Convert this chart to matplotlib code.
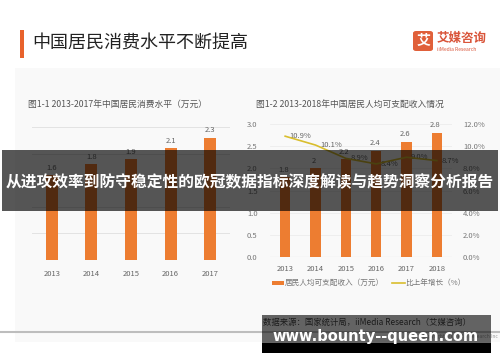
import numpy as np
import matplotlib as mat
mat.use("Agg")
import matplotlib.pyplot as plt
from matplotlib.patches import Rectangle, FancyBboxPatch
from matplotlib.lines import Line2D

plt.rcParams['font.family'] = ['Noto Sans CJK SC', 'DejaVu Sans']

# 数据
years1 = ['2013', '2014', '2015', '2016', '2017']
consume = [1.6, 1.8, 1.9, 2.1, 2.3]          # 万元
years2 = ['2013', '2014', '2015', '2016', '2017', '2018']
income = [1.8, 2.0, 2.2, 2.4, 2.6, 2.8]      # 万元
growth = [10.9, 10.1, 8.9, 8.4, 9.0, 8.7]    # %
income_labels = ['1.8', '2', '2.2', '2.4', '2.6', '2.8']

title = '中国居民消费水平不断提高'
sub1 = '图1-1 2013-2017年中国居民消费水平（万元）'
sub2 = '图1-2 2013-2018年中国居民人均可支配收入情况'
banner = '从进攻效率到防守稳定性的欧冠数据指标深度解读与趋势洞察分析报告'
source = '数据来源：国家统计局，iiMedia Research（艾媒咨询）'
site = 'www.bounty--queen.com'

ORANGE = '#ED7D31'
YELLOW = '#D9BE2E'
GRAY = '#7f7f7f'

W, H = 500, 362
def box(x0, y0, x1, y1):
    # 像素坐标(左上原点) -> figure 坐标
    return [x0 / W, 1 - y1 / H, (x1 - x0) / W, (y1 - y0) / H]
def fx(x): return x / W
def fy(y): return 1 - y / H

fig = plt.figure(figsize=(5, 3.62), dpi=100)
fig.patch.set_facecolor('white')

# 浅灰背景区
fig.add_artist(Rectangle((fx(15), fy(342)), fx(485), (342 - 68) / H, transform=fig.transFigure,
                         facecolor='#f9f9f9', edgecolor='none', zorder=-1))

# 标题
fig.add_artist(Rectangle((fx(20), fy(58)), fx(4), 28 / H, transform=fig.transFigure,
                         facecolor='#E8622C', edgecolor='none'))
fig.text(fx(32), fy(44), title, fontsize=13, color='#222222', va='center', ha='left')

# logo
fig.add_artist(FancyBboxPatch((fx(413), fy(51)), fx(20), 20 / H, boxstyle='round,pad=0,rounding_size=0.006',
                              transform=fig.transFigure, facecolor='#E0603A', edgecolor='none'))
fig.text(fx(423), fy(41), '艾', fontsize=10, color='white', ha='center', va='center', fontweight='bold')
fig.text(fx(437), fy(38), '艾媒咨询', fontsize=9, color='#D9553A', ha='left', va='center', fontweight='bold')
fig.text(fx(437), fy(49.5), 'iiMedia Research', fontsize=3.6, color='#D9553A', ha='left', va='center')

# 小标题
fig.text(fx(28), fy(104), sub1, fontsize=6.3, color='#555555', ha='left', va='center')
fig.text(fx(256), fy(104), sub2, fontsize=6.3, color='#555555', ha='left', va='center')

# 图1-1
ax1 = fig.add_axes(box(32, 127, 230, 260))
ax1.set_facecolor('none')
x1 = np.arange(len(years1))
ax1.bar(x1, consume, width=0.3, color=ORANGE, zorder=3)
for xi, v in zip(x1, consume):
    ax1.text(xi, v + 0.06, f'{v}', ha='center', va='bottom', fontsize=5.5, color='#666666')
ax1.set_xlim(-0.5, 4.5)
ax1.set_ylim(0, 2.5)
ax1.set_yticks(np.arange(0, 2.51, 0.5))
ax1.yaxis.grid(True, color='#e3e3e3', linewidth=0.7, zorder=0)
ax1.tick_params(axis='y', left=False, labelleft=False)
ax1.set_xticks(x1)
ax1.set_xticklabels(years1, fontsize=5.5, color='#666666')
ax1.tick_params(axis='x', length=0, pad=7)
for s in ax1.spines.values():
    s.set_visible(False)

# 图1-2
ax2 = fig.add_axes(box(270, 124, 452, 257))
ax2.set_facecolor('none')
x2 = np.arange(len(years2))
ax2.bar(x2, income, width=0.33, color=ORANGE, zorder=3, label='居民人均可支配收入（万元）')
for xi, v, lb in zip(x2, income, income_labels):
    ax2.text(xi - 0.05, v + 0.08, lb, ha='center', va='bottom', fontsize=5.5, color='#666666', zorder=5)
ax2.set_xlim(-0.5, 5.5)
ax2.set_ylim(0, 3.0)
ax2.set_yticks(np.arange(0, 3.01, 0.5))
ax2.set_yticklabels([f'{v:.1f}' for v in np.arange(0, 3.01, 0.5)], fontsize=5.5, color='#777777')
ax2.yaxis.grid(True, color='#ededed', linewidth=0.6, zorder=0)
ax2.set_xticks(x2)
ax2.set_xticklabels(years2, fontsize=5.5, color='#666666')
ax2.tick_params(axis='x', length=0, pad=6)
ax2.tick_params(axis='y', length=0, pad=9)
for s in ax2.spines.values():
    s.set_visible(False)
ax2.axhline(0, color='#d0d0d0', linewidth=0.8)

ax3 = ax2.twinx()
ax3.plot(x2, growth, color=YELLOW, linewidth=1.2, zorder=4, label='比上年增长（%）')
for xi, v in zip(x2, growth):
    ax3.text(xi + 0.15, v, f'{v}%', ha='left', va='center', fontsize=5.5, color='#666666')
ax3.set_ylim(0, 12)
ax3.set_yticks(np.arange(0, 12.1, 2))
ax3.set_yticklabels([f'{v:.1f}%' for v in np.arange(0, 12.1, 2)], fontsize=5.5, color='#777777')
ax3.tick_params(axis='y', length=0, pad=8)
for s in ax3.spines.values():
    s.set_visible(False)

# 图例
fig.add_artist(Rectangle((fx(272), fy(284.5)), fx(12), 3.5 / H, transform=fig.transFigure,
                         facecolor=ORANGE, edgecolor='none'))
fig.text(fx(285), fy(283), '居民人均可支配收入（万元）', fontsize=5.5, color='#777777', ha='left', va='center')
fig.add_artist(Line2D([fx(392), fx(405)], [fy(283), fy(283)], transform=fig.transFigure,
                      color=YELLOW, linewidth=1.2))
fig.text(fx(405), fy(283), '比上年增长（%）', fontsize=5.5, color='#777777', ha='left', va='center')

# 底部
fig.add_artist(Line2D([0, 1], [fy(332), fy(332)], transform=fig.transFigure, color='#bdbdbd', linewidth=1.5))
fig.text(fx(263), fy(322), source, fontsize=6, color='#444444', ha='left', va='center')
fig.text(fx(498), fy(336), 'Copyright © iiMedia Research Inc', fontsize=3.5, color='#999999', ha='right', va='center')

# 横幅
fig.add_artist(Rectangle((fx(2), fy(211)), fx(496), 61 / H, transform=fig.transFigure,
                         facecolor='black', alpha=0.66, edgecolor='none', zorder=5))
fig.text(fx(250), fy(182), banner, fontsize=11.3, color='white', ha='center', va='center',
         fontweight='bold', zorder=6)

# 水印
fig.add_artist(Rectangle((fx(262), fy(343)), fx(229), 28 / H, transform=fig.transFigure,
                         facecolor='black', alpha=0.6, edgecolor='none', zorder=5))
fig.add_artist(Rectangle((fx(262), fy(353)), fx(229), 10 / H, transform=fig.transFigure,
                         facecolor='black', edgecolor='none', zorder=5))
fig.text(fx(376), fy(337), site, fontsize=10.5, color='white', ha='center', va='center',
         fontweight='bold', family='DejaVu Sans', zorder=6)

fig.savefig('out.png', dpi=100)
